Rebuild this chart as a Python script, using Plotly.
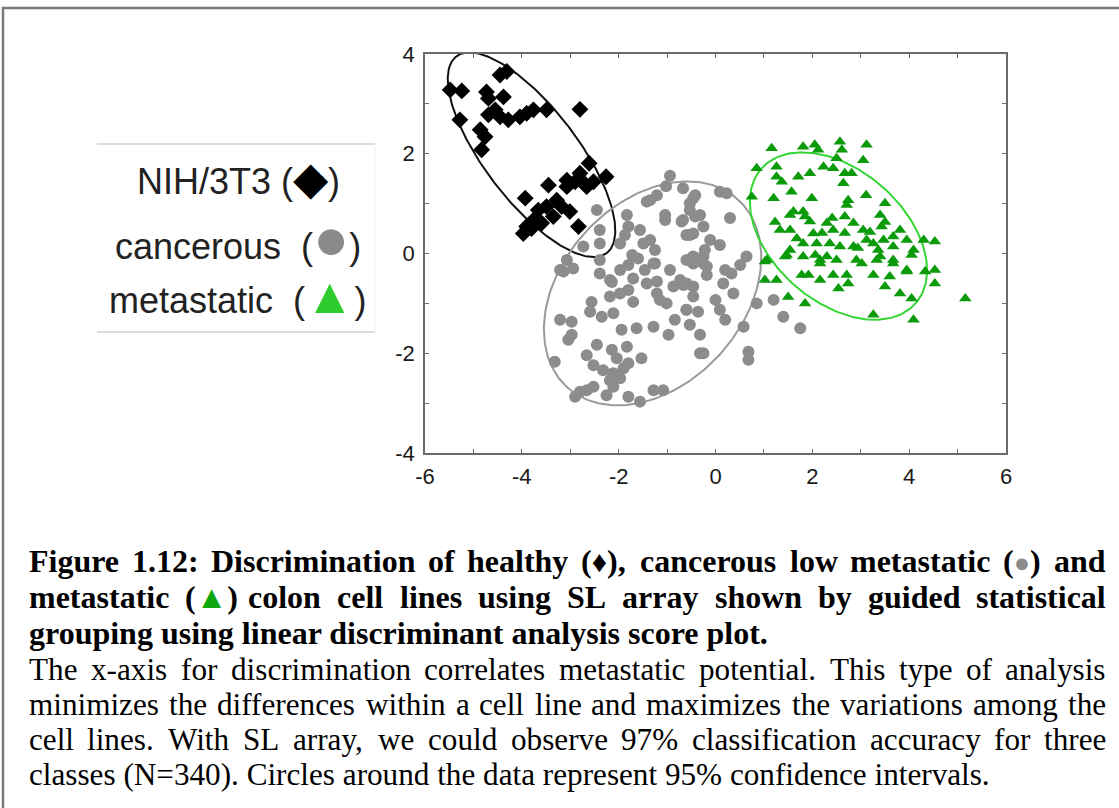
import numpy as np
import plotly.graph_objects as go

# ---------------- data ----------------
nih_x = [-5.48, -5.24, -5.28, -4.86, -4.76, -4.83, -4.73, -4.69, -4.38, -4.45, -4.31, -4.69, -4.45,
         -4.28, -4.04, -3.90, -3.76, -3.49, -2.80, -2.61, -2.80, -3.07, -2.90, -2.72, -2.52, -2.26,
         -3.45, -3.93, -3.28, -3.18, -3.01, -3.66, -3.35, -3.76, -3.59, -2.83, -3.97, -3.80, -4.55,
         -3.07, -2.66, -3.49, -3.90]
nih_y = [3.28, 3.26, 2.68, 2.48, 2.34, 2.08, 3.24, 3.11, 3.14, 3.58, 3.65, 2.78, 2.74,
         2.68, 2.74, 2.81, 2.88, 2.88, 2.89, 1.81, 1.61, 1.47, 1.44, 1.42, 1.44, 1.54,
         1.37, 1.11, 1.07, 0.94, 0.84, 0.87, 0.74, 0.67, 0.61, 0.54, 0.40, 0.50, 2.88,
         1.34, 1.34, 0.94, 0.54]

canc_x = [-0.94, -1.42, -1.21, -2.45, -1.83, -1.80, -1.04, -0.70, -0.46, -0.53, -2.39, -2.73, -1.97,
          -1.49, -0.46, -1.28, -0.46, -3.07, -3.21, -3.14, -2.94, -2.39, -2.18, -1.97, -1.80, -1.70,
          -1.42, -1.21, -0.87, -0.66, -0.46, -1.25, -2.18, -1.97, -1.80, -1.70, -2.56, -2.59, -2.35,
          -2.11, -1.21, -1.01, -0.60, -3.21, -2.97, -2.97, -3.04, -1.94, -1.63, -1.28, -0.97, -3.32,
          -2.66, -2.45, -2.14, -1.83, -2.04, -2.52, -2.32, -2.11, -1.90, -1.80, -1.53, -2.18, -1.97,
          -2.11, -2.80, -2.90, -2.66, -2.52, -2.25, -1.80, -1.56, -1.28, -1.08, -0.32, -0.60, -0.25,
          -0.18, -0.18, -0.60, -0.46, -0.60, -0.36, 0.09, 0.20, 0.16, 0.33, 0.37, 0.64, 0.85, 0.58,
          1.20, 1.40, 1.75, -0.25, 0.68, 0.68, -0.42, -0.53, -0.67, -0.42, -0.25, -0.11, 0.09, 0.23,
          0.30, -0.60, -0.46, -0.25, -1.02, -0.67, -1.35, -1.04, -0.32, -1.56, -0.53, 0.09, -1.25,
          -0.22, -0.94, -0.73, 0.00, 0.51, -0.84, -2.39, -1.87, -2.39, -1.46,
          -1.35, -1.72, -2.14, -1.15, -0.53, -0.32, 0.20, -1.60]
canc_y = [1.56, 1.04, 1.17, 0.87, 0.77, 0.54, 0.67, 0.64, 1.11, 0.87, 0.20, 0.14, 0.20,
          0.20, 0.40, -0.20, -0.20, -0.13, -0.33, -0.36, -0.30, -0.40, -0.53, -0.33, -0.23, -0.50,
          -0.60, -0.56, -0.66, -0.63, -0.66, -0.20, -0.86, -0.80, -0.73, -0.97, -0.97, -1.17, -1.27,
          -1.20, -0.80, -1.00, -1.13, -1.33, -1.37, -1.63, -1.73, -1.53, -1.50, -1.47, -1.63, -2.17,
          -2.04, -1.83, -1.93, -1.87, -2.10, -2.24, -2.34, -2.40, -2.30, -2.20, -2.10, -2.54, -2.50,
          -2.67, -2.77, -2.87, -2.74, -2.67, -2.84, -2.87, -2.97, -2.74, -2.74, -2.00, -0.13, -0.06,
          -0.26, -0.43, -0.60, -0.86, -1.13, -1.17, -1.13, -1.33, -0.60, -0.40, -0.80, -0.06, -1.00, -1.47,
          -0.93, -1.27, -1.50, -2.00, -1.97, -2.13, 1.17, 1.01, 0.67, 0.74, 0.54, 0.27, 1.24, 1.21,
          0.71, 0.37, -0.06, -0.20, 1.35, 1.31, 1.07, 0.77, 0.77, 0.47, 0.37, 0.17, 0.07,
          0.07, -0.33, -0.53, -0.93, -0.23, -1.33, 0.47, 0.37, -0.13, -0.33,
          0.27, -0.03, -0.57, -0.93, -1.43, -1.63, -0.33, -0.10]

meta_x = [1.16, 1.81, 2.05, 2.12, 2.57, 2.61, 3.12, 3.05, 2.50, 0.85, 1.26, 1.26, 1.37, 1.71, 1.95,
          2.23, 2.43, 2.67, 2.81, 2.64, 1.20, 1.57, 1.99, 0.75, 1.61, 1.85, 1.95, 2.71, 2.67, 2.85,
          3.05, 3.40, 3.50, 3.43, 1.33, 1.54, 1.68, 1.81, 2.02, 2.09, 2.30, 2.43, 2.36, 2.57, 2.85,
          3.12, 3.26, 3.47, 3.67, 3.67, 3.95, 4.09, 4.30, 4.53, 1.06, 1.44, 1.81, 2.16, 2.50, 2.91,
          3.33, 3.67, 3.95, 1.02, 1.47, 1.02, 1.26, 1.50, 1.85, 1.78, 1.92, 2.16, 2.16, 2.43, 2.54,
          2.74, 2.71, 3.02, 3.26, 3.50, 3.60, 3.81, 3.95, 4.05, 4.09, 3.26, 4.05, 4.33, 4.53, 4.53,
          5.16, 2.30, 3.40, 3.67,
          1.54, 1.81, 2.20, 2.67, 2.94, 3.19, 3.50, 3.81, 3.36, 2.06, 1.54, 2.41, 2.74, 3.11, 1.23]
meta_y = [2.11, 2.14, 2.18, 2.08, 2.24, 2.08, 2.18, 1.87, 1.91, 1.71, 1.74, 1.54, 1.44, 1.54, 1.61,
          1.74, 1.71, 1.61, 1.61, 1.41, 1.11, 1.24, 1.11, 1.14, 0.84, 0.74, 0.64, 0.97, 0.74, 0.61,
          0.47, 0.77, 1.01, 0.54, 0.47, 0.47, 0.30, 0.20, 0.40, 0.20, 0.61, 0.47, 0.20, 0.14, 0.14,
          0.27, 0.20, 0.27, 0.34, 0.14, 0.27, 0.07, 0.27, 0.24, -0.13, -0.06, -0.06, -0.13, -0.13, -0.13,
          -0.13, -0.13, -0.33, -0.16, -0.03, -0.53, -0.53, -0.87, -1.00, -0.43, -0.43, -0.53, -0.20, -0.43, -0.70,
          -0.60, -0.43, -0.20, -0.43, -0.66, -0.46, -0.80, -0.36, -0.90, -1.33, -1.23, -0.03, -0.36, -0.33, -0.60,
          -0.90, -0.06, -0.06, -0.20,
          0.77, 0.84, 0.41, 0.41, 0.11, 0.43, 0.63, 0.47, 0.07, -0.03, 0.07, 0.71, 1.07, 1.17, 0.63]

# 95 % confidence ellipses: centre x, centre y, semi-major, semi-minor, angle (deg)
ell_names = ["NIH/3T3", "cancerous", "metastatic"]
ell_cx = [-3.80, -1.30, 2.54]
ell_cy = [1.98, -0.80, 0.35]
ell_a = [2.51, 2.58, 2.09]
ell_b = [0.95, 1.85, 1.34]
ell_ang = [-51.5, 45.0, -39.0]

x_ticks = [-6, -5, -4, -3, -2, -1, 0, 1, 2, 3, 4, 5, 6]
x_ticklabels = ["-6", "", "-4", "", "-2", "", "0", "", "2", "", "4", "", "6"]
y_ticks = [-4, -3, -2, -1, 0, 1, 2, 3, 4]
y_ticklabels = ["-4", "", "-2", "", "0", "", "2", "", "4"]

cap_bold = [
    "Figure 1.12: Discrimination of healthy (♦), cancerous low metastatic (●) and",
    "metastatic (▲) colon cell lines using SL array shown by guided statistical",
    "grouping using linear discriminant analysis score plot.",
]
cap_reg = [
    "The x-axis for discrimination correlates metastatic potential. This type of analysis",
    "minimizes the differences within a cell line and maximizes the variations among the",
    "cell lines. With SL array, we could observe 97% classification accuracy for three",
    "classes (N=340). Circles around the data represent 95% confidence intervals.",
]

# ---------------- layout geometry ----------------
W, H = 1119, 808
PL, PR, PT, PB = 425, 1006, 54, 453


def xp(px):
    return (px - PL) / (PR - PL)


def yp(py):
    return (PB - py) / (PB - PT)


fig = go.Figure()

ell_colors = ["#111111", "#9a9a9a", "#33d633"]
t = np.linspace(0, 2 * np.pi, 241)
for cx, cy, a, b, ang, col, nm in zip(ell_cx, ell_cy, ell_a, ell_b, ell_ang, ell_colors, ell_names):
    th = np.deg2rad(ang)
    ex = cx + a * np.cos(t) * np.cos(th) - b * np.sin(t) * np.sin(th)
    ey = cy + a * np.cos(t) * np.sin(th) + b * np.sin(t) * np.cos(th)
    fig.add_trace(go.Scatter(x=ex, y=ey, mode="lines", line=dict(color=col, width=2),
                             hoverinfo="skip", showlegend=False, name=nm + " 95% CI"))

fig.add_trace(go.Scatter(x=canc_x, y=canc_y, mode="markers", name="cancerous",
                         marker=dict(symbol="circle", size=12, color="#8c8c8c"), showlegend=False))
fig.add_trace(go.Scatter(x=meta_x, y=meta_y, mode="markers", name="metastatic",
                         marker=dict(symbol="triangle-up", size=11, color="#0a9a0a"), showlegend=False))
fig.add_trace(go.Scatter(x=nih_x, y=nih_y, mode="markers", name="NIH/3T3",
                         marker=dict(symbol="diamond", size=13, color="#000000"), showlegend=False))

axis_common = dict(showgrid=False, zeroline=False, showline=True, linecolor="#6a6a6a", linewidth=1.5,
                   mirror="ticks", ticks="inside", ticklen=4, tickcolor="#6a6a6a", tickwidth=1,
                   tickfont=dict(family="Arial, Liberation Sans", size=22, color="#1a1a1a"))
fig.update_xaxes(range=[-6, 6], tickmode="array", tickvals=x_ticks, ticktext=x_ticklabels,
                 ticklabelstandoff=3, **axis_common)
fig.update_yaxes(range=[-4, 4], tickmode="array", tickvals=y_ticks, ticktext=y_ticklabels,
                 ticklabelstandoff=4, **axis_common)

shapes = []
# outer figure border
shapes.append(dict(type="rect", xref="paper", yref="paper", x0=xp(3), x1=xp(1130), y0=yp(8), y1=yp(820),
                   line=dict(color="#7a7a7a", width=2.5), fillcolor="rgba(0,0,0,0)", layer="below"))
# legend box lines
shapes.append(dict(type="line", xref="paper", yref="paper", x0=xp(97), x1=xp(375), y0=yp(144), y1=yp(144),
                   line=dict(color="#d0d0d0", width=1.5)))
shapes.append(dict(type="line", xref="paper", yref="paper", x0=xp(97), x1=xp(375), y0=yp(332), y1=yp(332),
                   line=dict(color="#d0d0d0", width=1.5)))
shapes.append(dict(type="line", xref="paper", yref="paper", x0=xp(375), x1=xp(375), y0=yp(144), y1=yp(332),
                   line=dict(color="#f0f0f0", width=1)))

annotations = []
leg_font = dict(family="Arial, Liberation Sans", size=36, color="#222222")
legend_rows = [
    ("NIH/3T3 (<span style='color:#000000;font-size:46px'>◆</span>)", 178),
    ("cancerous\u00a0\u00a0(<span style='color:#8a8a8a;font-size:60px'>●</span>)", 238),
    ("metastatic\u00a0\u00a0(<span style='color:#2ecc2e;font-size:50px'>▲</span>)", 296),
]
for txt, y in legend_rows:
    annotations.append(dict(xref="paper", yref="paper", x=xp(238), y=yp(y), xanchor="center",
                            yanchor="middle", text=txt, showarrow=False, font=leg_font))

# ---- caption (justified by placing words) ----
TR = {' ': 250, '%': 833, '(': 333, ')': 333, ',': 250, '-': 333, '.': 250, ':': 278, '=': 564}
TB = {' ': 250, '%': 1000, '(': 333, ')': 333, ',': 250, '-': 333, '.': 250, ':': 333, '=': 570}
for d in '0123456789':
    TR[d] = 500
    TB[d] = 500
TR.update(dict(zip("ABCDEFGHIJKLMNOPQRSTUVWXYZ",
                   [722, 667, 667, 722, 611, 556, 722, 722, 333, 389, 722, 611, 889, 722, 722, 556, 722, 667,
                    556, 611, 722, 722, 944, 722, 722, 611])))
TR.update(dict(zip("abcdefghijklmnopqrstuvwxyz",
                   [444, 500, 444, 500, 444, 333, 500, 500, 278, 278, 500, 278, 778, 500, 500, 500, 500, 333,
                    389, 278, 500, 500, 722, 500, 500, 444])))
TB.update(dict(zip("ABCDEFGHIJKLMNOPQRSTUVWXYZ",
                   [722, 667, 722, 722, 667, 611, 778, 778, 389, 500, 778, 667, 944, 722, 778, 611, 778, 722,
                    556, 667, 722, 722, 1000, 722, 722, 667])))
TB.update(dict(zip("abcdefghijklmnopqrstuvwxyz",
                   [500, 556, 444, 556, 444, 333, 500, 556, 278, 333, 556, 278, 833, 556, 500, 556, 556, 444,
                    389, 333, 556, 500, 722, 500, 500, 444])))
SYM_W = {'♦': 560, '●': 560, '▲': 800}
SYM_MARK = {'♦': "<span style='font-size:30px'>♦</span>",
            '●': "<span style='color:#8c8c8c;font-size:27px'>●</span>",
            '▲': "<span style='color:#0ea80e'>▲</span>"}


def word_w(w, table, fs):
    return sum(SYM_W.get(c, table.get(c, 500)) for c in w) * fs / 1000.0


def markup(w):
    return "".join(SYM_MARK.get(c, c) for c in w)


CAP_L, CAP_R = 27, 1104
FS_B, FS_R = 32, 31.2
serif = "Times New Roman, Liberation Serif, serif"
cap_lines = [(s, TB, FS_B, True, j) for s, j in zip(cap_bold, [True, True, False])] + \
            [(s, TR, FS_R, False, j) for s, j in zip(cap_reg, [True, True, True, False])]
cap_y = [561, 597, 633, 669, 704, 739, 775]
for (line, table, fs, bold, just), y in zip(cap_lines, cap_y):
    font = dict(family=serif, size=fs, color="#000000")
    if not just:
        txt = markup(line)
        if bold:
            txt = "<b>" + txt + "</b>"
        annotations.append(dict(xref="paper", yref="paper", x=xp(CAP_L), y=yp(y), xanchor="left",
                                yanchor="middle", text=txt, showarrow=False, font=font))
        continue
    words = line.split(" ")
    widths = [word_w(w, table, fs) for w in words]
    gap = (CAP_R - CAP_L - sum(widths)) / (len(words) - 1)
    x = CAP_L
    for w, wd in zip(words, widths):
        txt = markup(w)
        if bold:
            txt = "<b>" + txt + "</b>"
        annotations.append(dict(xref="paper", yref="paper", x=xp(x), y=yp(y), xanchor="left",
                                yanchor="middle", text=txt, showarrow=False, font=font))
        x += wd + gap

fig.update_layout(width=W, height=H, margin=dict(l=PL, r=W - PR, t=PT, b=H - PB, pad=0),
                  paper_bgcolor="white", plot_bgcolor="white", showlegend=False,
                  shapes=shapes, annotations=annotations)

fig.write_html("out.html")
